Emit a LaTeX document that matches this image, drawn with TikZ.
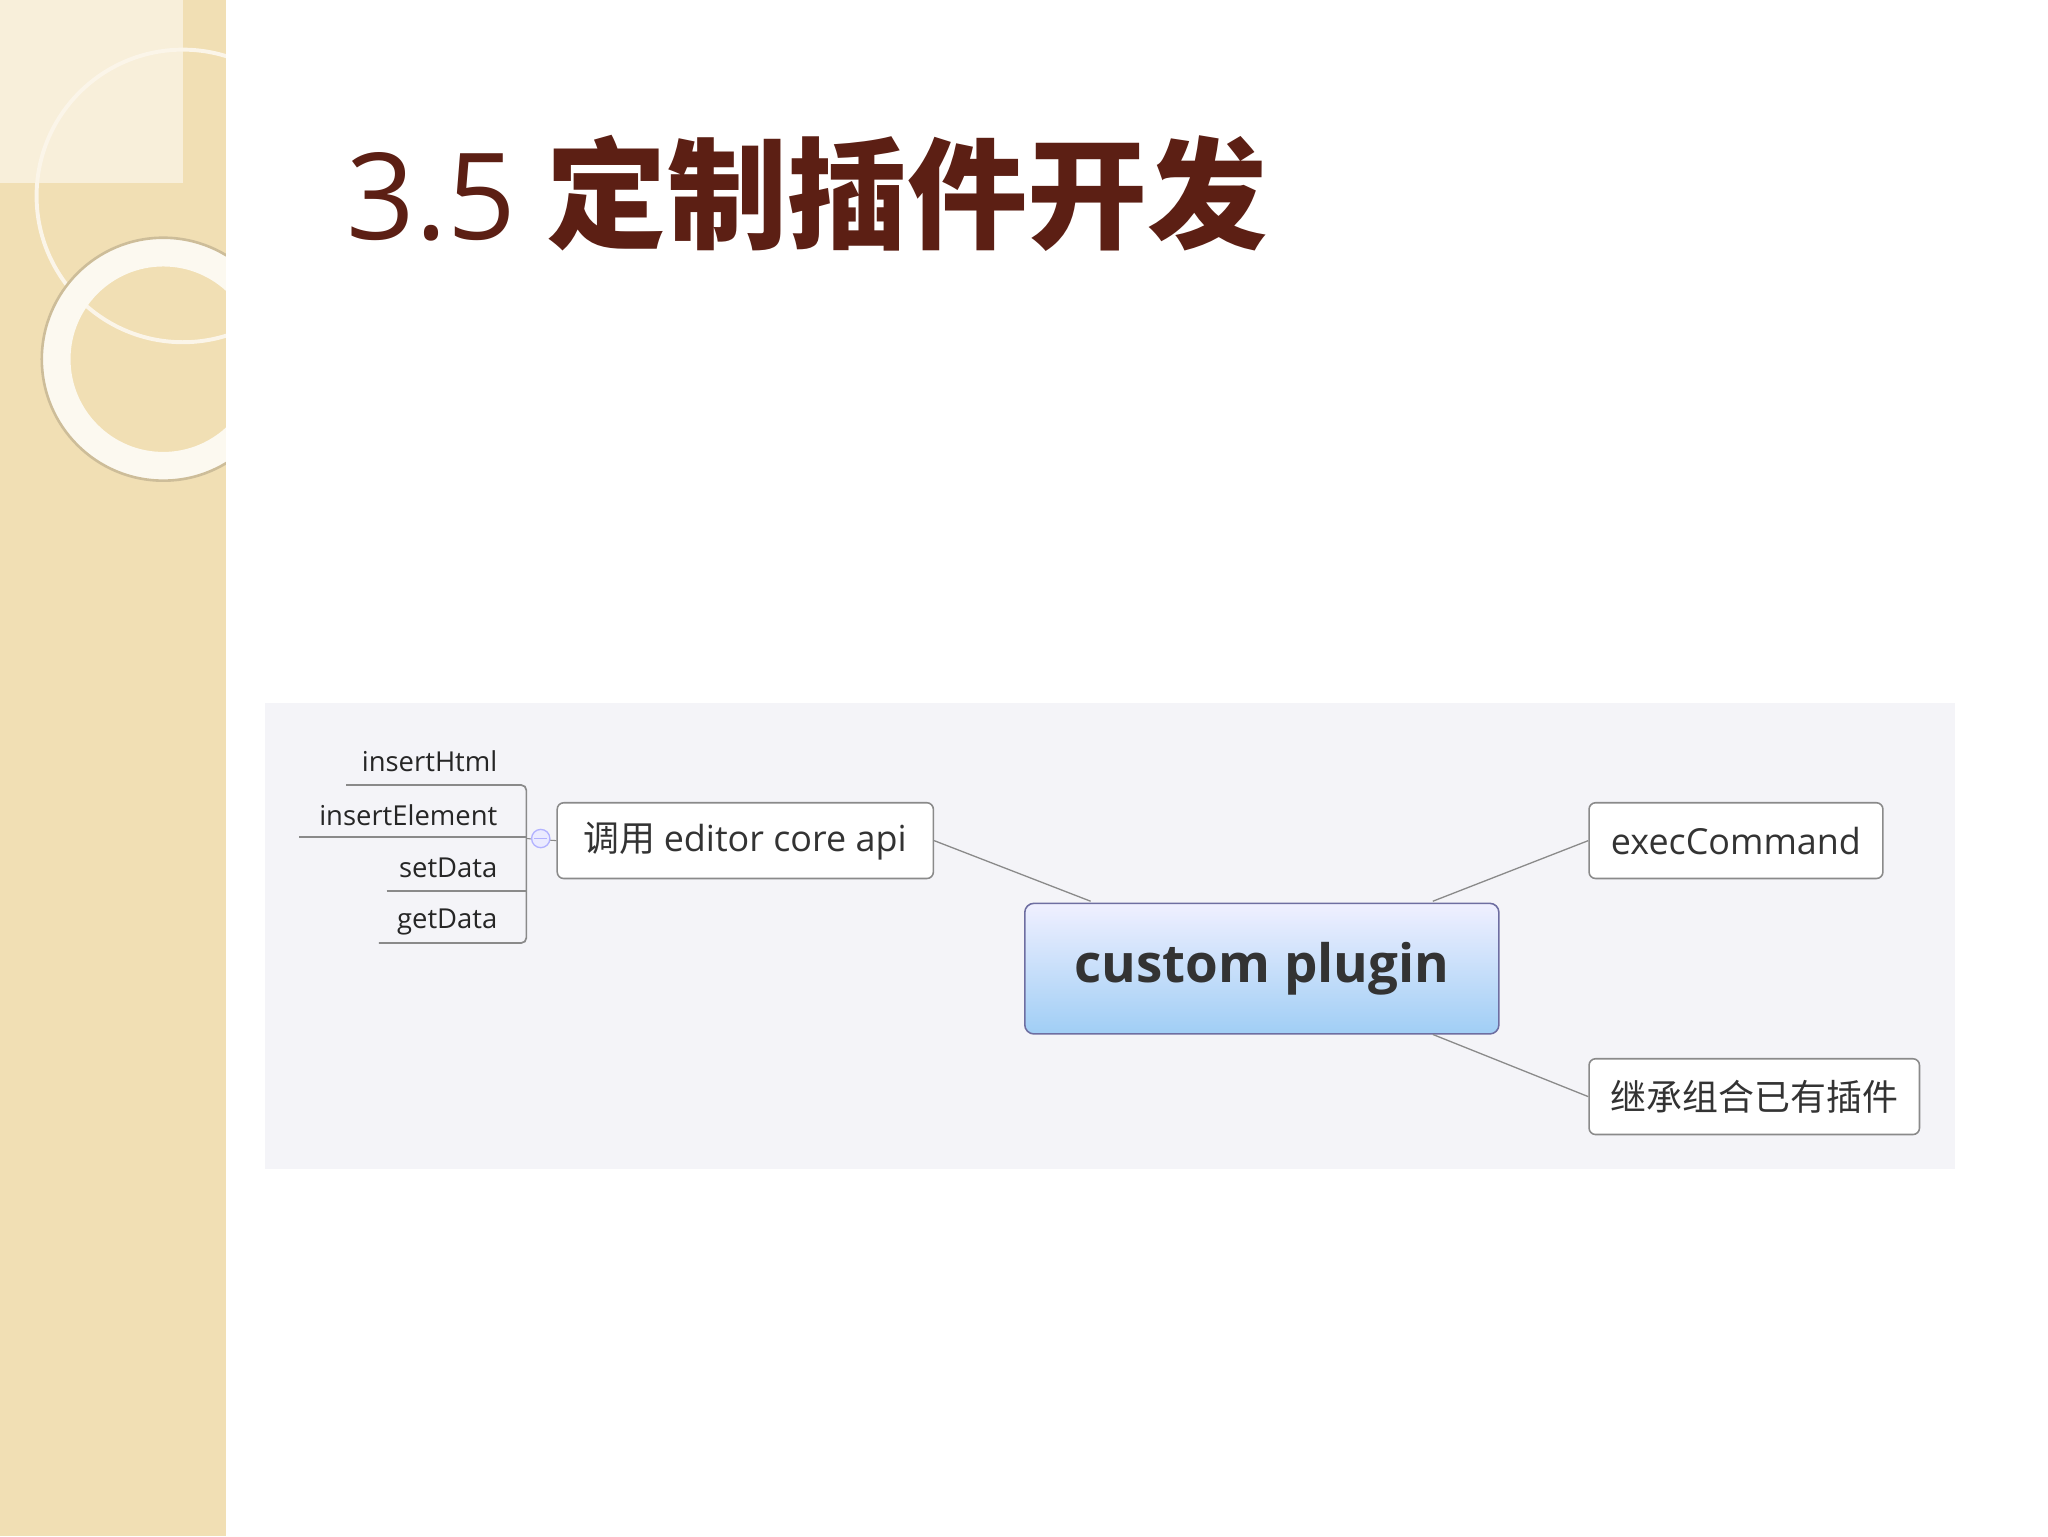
\documentclass[tikz,border=0pt]{standalone}
\usepackage{fontspec}
\setmainfont{Open Sans}
\newfontfamily\cjk{Noto Sans CJK SC}
\definecolor{tan}{HTML}{F1DFB4}
\definecolor{panel}{HTML}{F4F4F8}
\definecolor{titlec}{HTML}{5C1F14}
\definecolor{edge}{HTML}{8A8A8A}
\begin{document}
\begin{tikzpicture}[x=1pt,y=-1pt,
  box/.style={draw=edge,line width=1.2pt,rounded corners=5pt,fill=white,minimum height=58pt,inner xsep=11pt,font=\fontsize{27.5}{30}\selectfont,anchor=north west,text=black!80},
  leaf/.style={font=\fontsize{21}{24}\selectfont,anchor=base east,inner sep=0pt,text=black!85},
  ln/.style={draw=edge,line width=1.3pt}]
\useasboundingbox (0,0) rectangle (1568,1176);
\fill[white] (0,0) rectangle (1568,1176);
\fill[tan] (0,0) rectangle (173,1176);
\begin{scope}
\clip (0,0) rectangle (173,1176);
\fill[white!50!tan] (0,0) rectangle (140,140);
\draw[white!70!tan,line width=3pt] (140,150) circle (112);
\draw[white!80!tan,line width=22pt] (125,275) circle (82);
\draw[black!15!tan,line width=2pt] (125,275) circle (93);
\end{scope}
\node[anchor=base west,inner sep=0pt,text=titlec,font=\fontsize{92}{92}\selectfont] (title) at (265,183) {3.5 {\cjk\bfseries 定制插件开发}};
\fill[panel] (203,538) rectangle (1497,895);
\node[box,minimum width=288pt] (api) at (426,614) {\cjk 调用\ \rmfamily editor core api};
\node[box,minimum width=225pt] (exec) at (1216,614) {execCommand};
\node[box,minimum width=253pt] (inh) at (1216,810) {\cjk 继承组合已有插件};
\node[draw=edge!80!blue,line width=1.2pt,rounded corners=7pt,top color=blue!6!white,bottom color={rgb,255:red,160;green,206;blue,245},
  minimum width=363pt,minimum height=100pt,anchor=north west,font=\bfseries\fontsize{40.5}{42}\selectfont,text=black!80] (cp) at (784,691) {custom plugin};
\draw[edge,line width=1pt] (api.east) -- (835,690);
\draw[edge,line width=1pt] (1097,690) -- (exec.west);
\draw[edge,line width=1pt] (1097,792) -- (inh.west);
\node[leaf] (l1) at (381,591) {insertHtml};
\node[leaf] (l2) at (381,632) {insertElement};
\node[leaf] (l3) at (381,672) {setData};
\node[leaf] (l4) at (381,711) {getData};
\draw[ln,rounded corners=4pt] (265,601) -- (403,601) -- (403,722) -- (290,722);
\draw[ln] (229,641) -- (403,641);
\draw[ln] (296,682) -- (403,682);
\draw[edge,line width=0.8pt] (403,642) -- (api.west);
\node[circle,draw=blue!30,fill=blue!8,line width=1pt,minimum size=14pt,inner sep=0pt] (knob) at (414,642) {};
\draw[blue!30,line width=1pt] (409,642) -- (419,642);
\end{tikzpicture}
\end{document}
